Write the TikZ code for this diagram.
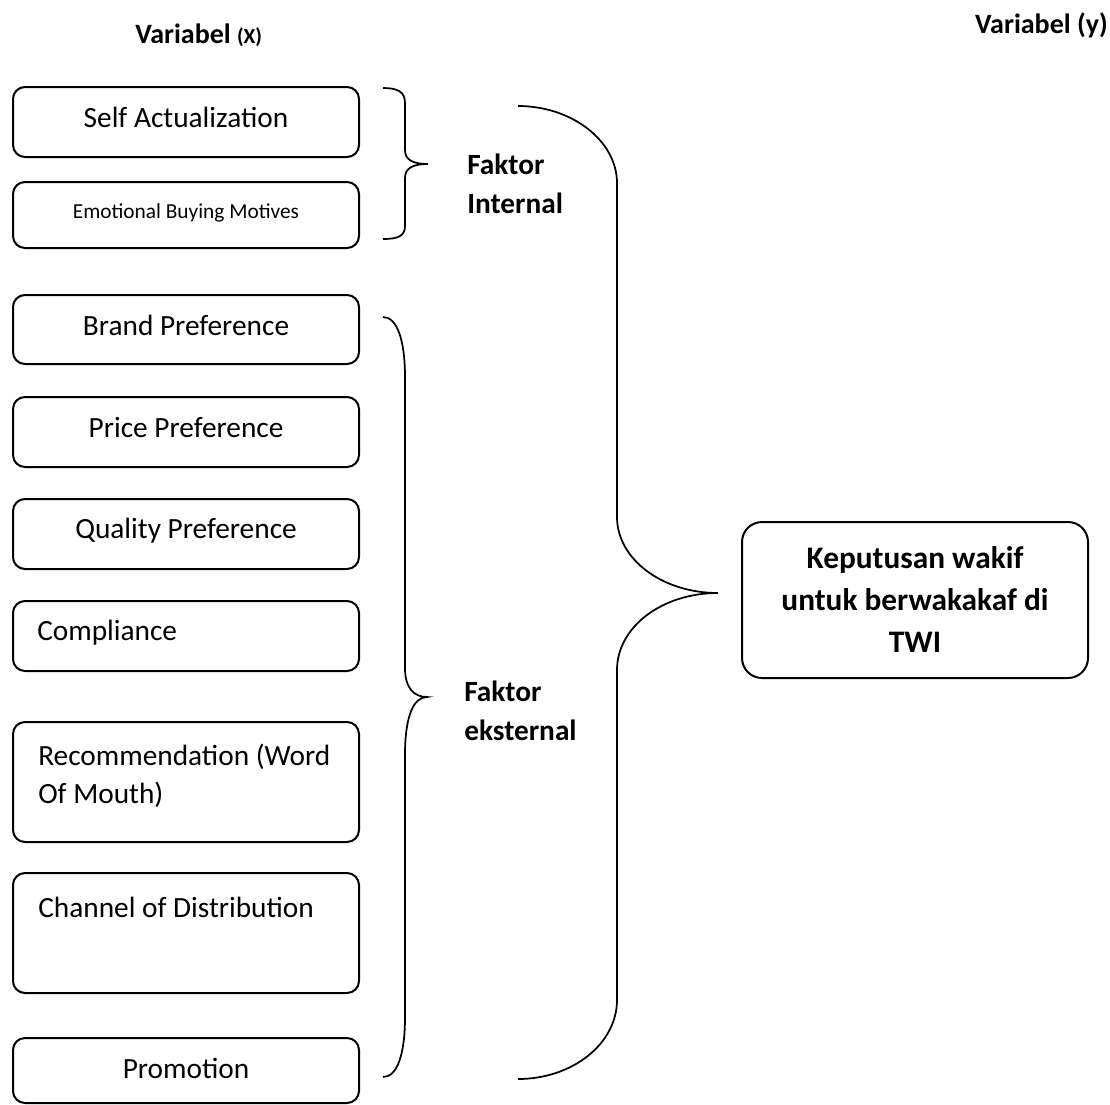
\documentclass[tikz,border=0pt]{standalone}
\usepackage{fontspec}
\setmainfont{Carlito}
\usepackage{tikz}

\tikzset{
  varbox/.style={draw, line width=1.5pt, rounded corners=9pt, minimum width=259.5pt, minimum height=#1*0.75pt, inner sep=0pt},
  vartext/.style={inner sep=0pt, align=left, font=\fontsize{22}{28.5}\selectfont},
  smalltext/.style={inner sep=0pt, font=\fontsize{16}{20}\selectfont},
  headtext/.style={inner sep=0pt, align=left, font=\fontsize{22}{29}\selectfont\bfseries},
  brace/.style={line width=1.3pt},
}

\begin{document}
\begin{tikzpicture}[x=0.75pt,y=-0.75pt]
\path[use as bounding box] (0,0) rectangle (1110,1104);
\node[headtext,anchor=base west] (varx) at (135,43) {\fontsize{21}{26}\selectfont Variabel {\fontsize{16}{20}\selectfont(X)}};
\node[headtext,anchor=base east] (vary) at (1108,33) {\fontsize{21}{26}\selectfont Variabel (y)};
\node[varbox=70] (selfact) at (186,122) {};
\node[vartext,anchor=base] (selfactt) at (186,127) {Self Actualization};
\node[varbox=66] (emobuy) at (186,215) {};
\node[smalltext,anchor=base] (emobuyt) at (186,218) {Emotional Buying Motives};
\node[varbox=69] (brand) at (186,329.5) {};
\node[vartext,anchor=base] (brandt) at (186,335) {Brand Preference};
\node[varbox=70] (price) at (186,432) {};
\node[vartext,anchor=base] (pricet) at (186,437) {Price Preference};
\node[varbox=70] (quality) at (186,534) {};
\node[vartext,anchor=base] (qualityt) at (186,538) {Quality Preference};
\node[varbox=70] (compl) at (186,636) {};
\node[vartext,anchor=base west] (complt) at (37,640) {Compliance};
\node[varbox=120] (recom) at (186,782) {};
\node[vartext,anchor=base west] (recomt) at (38,803) {Recommendation (Word\\Of Mouth)};
\node[varbox=120] (channel) at (186,933) {};
\node[vartext,anchor=base west] (channelt) at (38,917) {Channel of Distribution};
\node[varbox=65] (promo) at (186,1070.5) {};
\node[vartext,anchor=base] (promot) at (186,1078) {Promotion};
\coordinate (inttip) at (428,164);
\coordinate (exttip) at (427,697);
\coordinate (bigtip) at (718,593);
\draw[brace] (383,88) .. controls (398,88) and (405,92) .. (405,103) -- (405,150)
  .. controls (405,160) and (413,164) .. (inttip) .. controls (413,164) and (405,168) .. (405,178)
  -- (405,226) .. controls (405,236) and (398,239) .. (383,239);
\draw[brace] (383,317) .. controls (397,317) and (405,340) .. (405,377) -- (405,668)
  .. controls (405,688) and (414,697) .. (exttip) .. controls (414,697) and (405,715) .. (405,755)
  -- (405,1017) .. controls (405,1055) and (397,1077) .. (383,1077);
\draw[brace] (518,106) .. controls (572,106) and (617,141) .. (617,183) -- (617,517)
  .. controls (617,559) and (662,593) .. (bigtip) .. controls (662,593) and (617,627) .. (617,670)
  -- (617,1000) .. controls (617,1044) and (572,1079) .. (518,1079);
\node[headtext,anchor=base west] (faktorint) at (467,213) {Faktor\\Internal};
\node[headtext,anchor=base west] (faktorext) at (464,740) {Faktor\\eksternal};
\node[draw, line width=1.5pt, rounded corners=15pt, minimum width=259.5pt, minimum height=117pt] (keputusan) at (915,600) {};
\node[headtext,align=center,anchor=base,font=\fontsize{23.5}{31.5}\selectfont\bfseries] (keputusant) at (915,652) {Keputusan wakif\\untuk berwakakaf di\\TWI};
\end{tikzpicture}
\end{document}
